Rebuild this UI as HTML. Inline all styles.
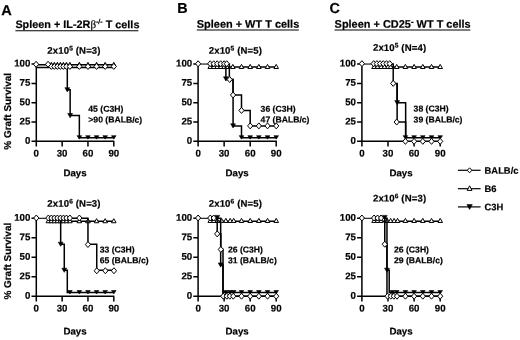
<!DOCTYPE html>
<html><head><meta charset="utf-8"><title>Graft survival</title>
<style>
html,body{margin:0;padding:0;background:#fff;}
body{width:520px;height:340px;overflow:hidden;}
svg{display:block;font-family:"Liberation Sans", sans-serif;font-weight:bold;fill:#000;}
text{stroke:#000;stroke-width:0.2px;}
</style></head><body>
<svg width="520" height="340" viewBox="0 0 520 340">
<defs><filter id="soft" x="0" y="0" width="520" height="340" filterUnits="userSpaceOnUse"><feGaussianBlur stdDeviation="0.35"/></filter></defs>
<rect width="520" height="340" fill="#fff"/>
<g filter="url(#soft)">
<rect width="520" height="340" fill="#fff"/>
<text x="1.30" y="15.20" transform="rotate(0.05 1.30 15.20)" font-size="14.6" text-anchor="start" >A</text>
<text x="177.20" y="12.90" transform="rotate(0.05 177.20 12.90)" font-size="14.4" text-anchor="start" >B</text>
<text x="329.50" y="13.10" transform="rotate(0.05 329.50 13.10)" font-size="14.4" text-anchor="start" >C</text>
<text x="15.4" y="28.1" transform="rotate(0.05 77 28.1)" font-size="10.85">Spleen + IL-2R<tspan font-weight="normal" font-size="11" font-family='"Liberation Serif", serif'>β</tspan><tspan font-size="7" font-weight="normal" stroke-width="0.35" dy="-4.2">-/-</tspan><tspan dy="4.2" font-size="10.85"> T cells</tspan></text>
<path d="M15.4 30.7H138.4" fill="none" stroke="#000" stroke-width="1.1"/>
<text x="196.8" y="27.8" transform="rotate(0.05 248 27.8)" font-size="10.95">Spleen + WT T cells</text>
<path d="M196.8 30.0H298.8" fill="none" stroke="#000" stroke-width="1.1"/>
<text x="334.6" y="27.8" transform="rotate(0.05 402 27.8)" font-size="10.95">Spleen + CD25<tspan font-size="8" dy="-3.2">-</tspan><tspan dy="3.2" font-size="10.95"> WT T cells</tspan></text>
<path d="M334.6 30.0H470.3" fill="none" stroke="#000" stroke-width="1.1"/>
<path d="M36.30 63.45V146.55M31.50 141.35H114.39M31.50 122.02H36.30M31.50 102.70H36.30M31.50 83.38H36.30M31.50 64.05H36.30M62.13 141.35V146.55M87.96 141.35V146.55M113.79 141.35V146.55" fill="none" stroke="#000" stroke-width="1.5"/>
<text x="30.40" y="143.85" transform="rotate(0.05 30.40 143.85)" font-size="9.7" text-anchor="end" >0</text>
<text x="30.40" y="124.52" transform="rotate(0.05 30.40 124.52)" font-size="9.7" text-anchor="end" >25</text>
<text x="30.40" y="105.20" transform="rotate(0.05 30.40 105.20)" font-size="9.7" text-anchor="end" >50</text>
<text x="30.40" y="85.88" transform="rotate(0.05 30.40 85.88)" font-size="9.7" text-anchor="end" >75</text>
<text x="30.40" y="66.55" transform="rotate(0.05 30.40 66.55)" font-size="9.7" text-anchor="end" >100</text>
<text x="36.30" y="156.55" transform="rotate(0.05 36.30 156.55)" font-size="9.7" text-anchor="middle" >0</text>
<text x="62.13" y="156.55" transform="rotate(0.05 62.13 156.55)" font-size="9.7" text-anchor="middle" >30</text>
<text x="87.96" y="156.55" transform="rotate(0.05 87.96 156.55)" font-size="9.7" text-anchor="middle" >60</text>
<text x="113.79" y="156.55" transform="rotate(0.05 113.79 156.55)" font-size="9.7" text-anchor="middle" >90</text>
<text x="75.04" y="176.35" transform="rotate(0.05 75.04 176.35)" font-size="9.7" text-anchor="middle" >Days</text>
<text x="74" y="53.8" transform="rotate(0.05 74 53.8)" font-size="9.6" letter-spacing="0.12" text-anchor="middle">2x10<tspan font-size="6.6" dy="-3.3">5</tspan><tspan dy="3.3" font-size="9.6"> (N=3)</tspan></text>
<text transform="translate(11.0,111.3) rotate(-89.95)" font-size="9.95" text-anchor="middle">% Graft Survival</text>
<path d="M36.30 64.75H113.79M36.30 67.55H113.79" fill="none" stroke="#000" stroke-width="1.55"/>
<path d="M49.07 66.40L51.37 62.30L53.67 66.40Z" fill="#fff" stroke="#000" stroke-width="1"/>
<path d="M52.08 66.40L54.38 62.30L56.68 66.40Z" fill="#fff" stroke="#000" stroke-width="1"/>
<path d="M55.09 66.40L57.39 62.30L59.69 66.40Z" fill="#fff" stroke="#000" stroke-width="1"/>
<path d="M58.11 66.40L60.41 62.30L62.71 66.40Z" fill="#fff" stroke="#000" stroke-width="1"/>
<path d="M61.12 66.40L63.42 62.30L65.72 66.40Z" fill="#fff" stroke="#000" stroke-width="1"/>
<path d="M64.14 66.40L66.44 62.30L68.73 66.40Z" fill="#fff" stroke="#000" stroke-width="1"/>
<path d="M67.58 66.40L69.88 62.30L72.18 66.40Z" fill="#fff" stroke="#000" stroke-width="1"/>
<path d="M77.05 66.40L79.35 62.30L81.65 66.40Z" fill="#fff" stroke="#000" stroke-width="1"/>
<path d="M85.66 66.40L87.96 62.30L90.26 66.40Z" fill="#fff" stroke="#000" stroke-width="1"/>
<path d="M94.27 66.40L96.57 62.30L98.87 66.40Z" fill="#fff" stroke="#000" stroke-width="1"/>
<path d="M102.88 66.40L105.18 62.30L107.48 66.40Z" fill="#fff" stroke="#000" stroke-width="1"/>
<path d="M111.49 66.40L113.79 62.30L116.09 66.40Z" fill="#fff" stroke="#000" stroke-width="1"/>
<path d="M67.30 64.05H67.30V89.79H70.14V115.61H79.35V137.75H113.79V137.75" fill="none" stroke="#000" stroke-width="1.5"/>
<path d="M64.90 87.69L67.30 91.89L69.70 87.69Z" fill="#000" stroke="#000" stroke-width="0.6"/>
<path d="M67.74 113.51L70.14 117.71L72.54 113.51Z" fill="#000" stroke="#000" stroke-width="0.6"/>
<path d="M77.05 135.65L79.35 139.15L81.65 135.65Z" fill="#000" stroke="#000" stroke-width="0.6"/>
<path d="M85.66 135.65L87.96 139.15L90.26 135.65Z" fill="#000" stroke="#000" stroke-width="0.6"/>
<path d="M94.27 135.65L96.57 139.15L98.87 135.65Z" fill="#000" stroke="#000" stroke-width="0.6"/>
<path d="M102.88 135.65L105.18 139.15L107.48 135.65Z" fill="#000" stroke="#000" stroke-width="0.6"/>
<path d="M111.49 135.65L113.79 139.15L116.09 135.65Z" fill="#000" stroke="#000" stroke-width="0.6"/>
<path d="M33.50 64.30L36.10 61.30L38.70 64.30L36.10 67.30Z" fill="#fff" stroke="#000" stroke-width="1"/>
<path d="M45.45 64.30L48.05 61.30L50.65 64.30L48.05 67.30Z" fill="#fff" stroke="#000" stroke-width="1"/>
<path d="M48.77 66.45L51.37 63.45L53.97 66.45L51.37 69.45Z" fill="#fff" stroke="#000" stroke-width="1"/>
<path d="M51.78 66.45L54.38 63.45L56.98 66.45L54.38 69.45Z" fill="#fff" stroke="#000" stroke-width="1"/>
<path d="M54.79 66.45L57.39 63.45L59.99 66.45L57.39 69.45Z" fill="#fff" stroke="#000" stroke-width="1"/>
<path d="M57.81 66.45L60.41 63.45L63.01 66.45L60.41 69.45Z" fill="#fff" stroke="#000" stroke-width="1"/>
<path d="M60.82 66.45L63.42 63.45L66.02 66.45L63.42 69.45Z" fill="#fff" stroke="#000" stroke-width="1"/>
<path d="M63.84 66.45L66.44 63.45L69.03 66.45L66.44 69.45Z" fill="#fff" stroke="#000" stroke-width="1"/>
<path d="M67.28 66.45L69.88 63.45L72.48 66.45L69.88 69.45Z" fill="#fff" stroke="#000" stroke-width="1"/>
<path d="M76.75 66.45L79.35 63.45L81.95 66.45L79.35 69.45Z" fill="#fff" stroke="#000" stroke-width="1"/>
<path d="M85.36 66.45L87.96 63.45L90.56 66.45L87.96 69.45Z" fill="#fff" stroke="#000" stroke-width="1"/>
<path d="M93.97 66.45L96.57 63.45L99.17 66.45L96.57 69.45Z" fill="#fff" stroke="#000" stroke-width="1"/>
<path d="M102.58 66.45L105.18 63.45L107.78 66.45L105.18 69.45Z" fill="#fff" stroke="#000" stroke-width="1"/>
<path d="M111.19 66.45L113.79 63.45L116.39 66.45L113.79 69.45Z" fill="#fff" stroke="#000" stroke-width="1"/>
<text x="88.30" y="111.80" transform="rotate(0.05 88.30 111.80)" font-size="8.65" text-anchor="start" >45 (C3H)</text>
<text x="88.30" y="122.60" transform="rotate(0.05 88.30 122.60)" font-size="8.65" text-anchor="start" >&gt;90 (BALB/c)</text>
<path d="M198.10 63.45V146.55M193.30 141.35H276.82M193.30 122.02H198.10M193.30 102.70H198.10M193.30 83.38H198.10M193.30 64.05H198.10M224.14 141.35V146.55M250.18 141.35V146.55M276.22 141.35V146.55" fill="none" stroke="#000" stroke-width="1.5"/>
<text x="192.20" y="143.85" transform="rotate(0.05 192.20 143.85)" font-size="9.7" text-anchor="end" >0</text>
<text x="192.20" y="124.52" transform="rotate(0.05 192.20 124.52)" font-size="9.7" text-anchor="end" >25</text>
<text x="192.20" y="105.20" transform="rotate(0.05 192.20 105.20)" font-size="9.7" text-anchor="end" >50</text>
<text x="192.20" y="85.88" transform="rotate(0.05 192.20 85.88)" font-size="9.7" text-anchor="end" >75</text>
<text x="192.20" y="66.55" transform="rotate(0.05 192.20 66.55)" font-size="9.7" text-anchor="end" >100</text>
<text x="198.10" y="156.55" transform="rotate(0.05 198.10 156.55)" font-size="9.7" text-anchor="middle" >0</text>
<text x="224.14" y="156.55" transform="rotate(0.05 224.14 156.55)" font-size="9.7" text-anchor="middle" >30</text>
<text x="250.18" y="156.55" transform="rotate(0.05 250.18 156.55)" font-size="9.7" text-anchor="middle" >60</text>
<text x="276.22" y="156.55" transform="rotate(0.05 276.22 156.55)" font-size="9.7" text-anchor="middle" >90</text>
<text x="237.16" y="176.35" transform="rotate(0.05 237.16 176.35)" font-size="9.7" text-anchor="middle" >Days</text>
<text x="235.4" y="53.8" transform="rotate(0.05 235.4 53.8)" font-size="9.6" letter-spacing="0.12" text-anchor="middle">2x10<tspan font-size="6.6" dy="-3.3">5</tspan><tspan dy="3.3" font-size="9.6"> (N=5)</tspan></text>
<path d="M210.25 67.05H276.22" fill="none" stroke="#000" stroke-width="1.5"/>
<path d="M207.95 68.50L210.25 64.40L212.55 68.50Z" fill="#fff" stroke="#000" stroke-width="1"/>
<path d="M211.42 68.50L213.72 64.40L216.02 68.50Z" fill="#fff" stroke="#000" stroke-width="1"/>
<path d="M214.90 68.50L217.20 64.40L219.50 68.50Z" fill="#fff" stroke="#000" stroke-width="1"/>
<path d="M218.37 68.50L220.67 64.40L222.97 68.50Z" fill="#fff" stroke="#000" stroke-width="1"/>
<path d="M221.84 68.50L224.14 64.40L226.44 68.50Z" fill="#fff" stroke="#000" stroke-width="1"/>
<path d="M224.44 68.50L226.74 64.40L229.04 68.50Z" fill="#fff" stroke="#000" stroke-width="1"/>
<path d="M230.52 68.50L232.82 64.40L235.12 68.50Z" fill="#fff" stroke="#000" stroke-width="1"/>
<path d="M239.20 68.50L241.50 64.40L243.80 68.50Z" fill="#fff" stroke="#000" stroke-width="1"/>
<path d="M247.88 68.50L250.18 64.40L252.48 68.50Z" fill="#fff" stroke="#000" stroke-width="1"/>
<path d="M256.56 68.50L258.86 64.40L261.16 68.50Z" fill="#fff" stroke="#000" stroke-width="1"/>
<path d="M265.24 68.50L267.54 64.40L269.84 68.50Z" fill="#fff" stroke="#000" stroke-width="1"/>
<path d="M273.92 68.50L276.22 64.40L278.52 68.50Z" fill="#fff" stroke="#000" stroke-width="1"/>
<path d="M225.88 64.05H225.88V79.51H233.08V125.89H241.50V137.75H276.22V137.75" fill="none" stroke="#000" stroke-width="1.5"/>
<path d="M223.48 76.81L225.88 81.01L228.28 76.81Z" fill="#000" stroke="#000" stroke-width="0.6"/>
<path d="M230.68 123.79L233.08 127.99L235.48 123.79Z" fill="#000" stroke="#000" stroke-width="0.6"/>
<path d="M239.20 135.65L241.50 139.15L243.80 135.65Z" fill="#000" stroke="#000" stroke-width="0.6"/>
<path d="M247.88 135.65L250.18 139.15L252.48 135.65Z" fill="#000" stroke="#000" stroke-width="0.6"/>
<path d="M256.56 135.65L258.86 139.15L261.16 135.65Z" fill="#000" stroke="#000" stroke-width="0.6"/>
<path d="M265.24 135.65L267.54 139.15L269.84 135.65Z" fill="#000" stroke="#000" stroke-width="0.6"/>
<path d="M273.92 135.65L276.22 139.15L278.52 135.65Z" fill="#000" stroke="#000" stroke-width="0.6"/>
<path d="M198.10 64.05H209.82" fill="none" stroke="#000" stroke-width="1.05"/>
<path d="M209.38 64.05H229.35V79.51H233.08V94.97H241.50V110.43H250.18V125.89H276.22V125.89" fill="none" stroke="#000" stroke-width="1.5"/>
<path d="M195.50 63.75L198.10 60.75L200.70 63.75L198.10 66.75Z" fill="#fff" stroke="#000" stroke-width="1"/>
<path d="M207.65 63.75L210.25 60.75L212.85 63.75L210.25 66.75Z" fill="#fff" stroke="#000" stroke-width="1"/>
<path d="M211.12 63.75L213.72 60.75L216.32 63.75L213.72 66.75Z" fill="#fff" stroke="#000" stroke-width="1"/>
<path d="M214.60 63.75L217.20 60.75L219.80 63.75L217.20 66.75Z" fill="#fff" stroke="#000" stroke-width="1"/>
<path d="M218.07 63.75L220.67 60.75L223.27 63.75L220.67 66.75Z" fill="#fff" stroke="#000" stroke-width="1"/>
<path d="M221.54 63.75L224.14 60.75L226.74 63.75L224.14 66.75Z" fill="#fff" stroke="#000" stroke-width="1"/>
<path d="M224.14 63.75L226.74 60.75L229.34 63.75L226.74 66.75Z" fill="#fff" stroke="#000" stroke-width="1"/>
<path d="M227.05 79.51L229.65 76.51L232.25 79.51L229.65 82.51Z" fill="#fff" stroke="#000" stroke-width="1"/>
<path d="M230.48 94.97L233.08 91.97L235.68 94.97L233.08 97.97Z" fill="#fff" stroke="#000" stroke-width="1"/>
<path d="M238.90 110.43L241.50 107.43L244.10 110.43L241.50 113.43Z" fill="#fff" stroke="#000" stroke-width="1"/>
<path d="M247.58 125.89L250.18 122.89L252.78 125.89L250.18 128.89Z" fill="#fff" stroke="#000" stroke-width="1"/>
<path d="M256.26 125.89L258.86 122.89L261.46 125.89L258.86 128.89Z" fill="#fff" stroke="#000" stroke-width="1"/>
<path d="M264.94 125.89L267.54 122.89L270.14 125.89L267.54 128.89Z" fill="#fff" stroke="#000" stroke-width="1"/>
<path d="M273.62 125.89L276.22 122.89L278.82 125.89L276.22 128.89Z" fill="#fff" stroke="#000" stroke-width="1"/>
<text x="260.60" y="111.70" transform="rotate(0.05 260.60 111.70)" font-size="8.65" text-anchor="start" >36 (C3H)</text>
<text x="260.60" y="122.50" transform="rotate(0.05 260.60 122.50)" font-size="8.65" text-anchor="start" >47 (BALB/c)</text>
<path d="M361.90 63.45V146.55M357.10 141.35H440.80M357.10 122.02H361.90M357.10 102.70H361.90M357.10 83.38H361.90M357.10 64.05H361.90M388.00 141.35V146.55M414.10 141.35V146.55M440.20 141.35V146.55" fill="none" stroke="#000" stroke-width="1.5"/>
<text x="356.00" y="143.85" transform="rotate(0.05 356.00 143.85)" font-size="9.7" text-anchor="end" >0</text>
<text x="356.00" y="124.52" transform="rotate(0.05 356.00 124.52)" font-size="9.7" text-anchor="end" >25</text>
<text x="356.00" y="105.20" transform="rotate(0.05 356.00 105.20)" font-size="9.7" text-anchor="end" >50</text>
<text x="356.00" y="85.88" transform="rotate(0.05 356.00 85.88)" font-size="9.7" text-anchor="end" >75</text>
<text x="356.00" y="66.55" transform="rotate(0.05 356.00 66.55)" font-size="9.7" text-anchor="end" >100</text>
<text x="361.90" y="156.55" transform="rotate(0.05 361.90 156.55)" font-size="9.7" text-anchor="middle" >0</text>
<text x="388.00" y="156.55" transform="rotate(0.05 388.00 156.55)" font-size="9.7" text-anchor="middle" >30</text>
<text x="414.10" y="156.55" transform="rotate(0.05 414.10 156.55)" font-size="9.7" text-anchor="middle" >60</text>
<text x="440.20" y="156.55" transform="rotate(0.05 440.20 156.55)" font-size="9.7" text-anchor="middle" >90</text>
<text x="401.05" y="176.35" transform="rotate(0.05 401.05 176.35)" font-size="9.7" text-anchor="middle" >Days</text>
<text x="399.6" y="50.9" transform="rotate(0.05 399.6 50.9)" font-size="9.6" letter-spacing="0.12" text-anchor="middle">2x10<tspan font-size="6.6" dy="-3.3">5</tspan><tspan dy="3.3" font-size="9.6"> (N=4)</tspan></text>
<path d="M374.08 67.05H440.20" fill="none" stroke="#000" stroke-width="1.5"/>
<path d="M371.78 68.50L374.08 64.40L376.38 68.50Z" fill="#fff" stroke="#000" stroke-width="1"/>
<path d="M375.26 68.50L377.56 64.40L379.86 68.50Z" fill="#fff" stroke="#000" stroke-width="1"/>
<path d="M378.74 68.50L381.04 64.40L383.34 68.50Z" fill="#fff" stroke="#000" stroke-width="1"/>
<path d="M382.22 68.50L384.52 64.40L386.82 68.50Z" fill="#fff" stroke="#000" stroke-width="1"/>
<path d="M385.70 68.50L388.00 64.40L390.30 68.50Z" fill="#fff" stroke="#000" stroke-width="1"/>
<path d="M388.31 68.50L390.61 64.40L392.91 68.50Z" fill="#fff" stroke="#000" stroke-width="1"/>
<path d="M394.40 68.50L396.70 64.40L399.00 68.50Z" fill="#fff" stroke="#000" stroke-width="1"/>
<path d="M403.10 68.50L405.40 64.40L407.70 68.50Z" fill="#fff" stroke="#000" stroke-width="1"/>
<path d="M411.80 68.50L414.10 64.40L416.40 68.50Z" fill="#fff" stroke="#000" stroke-width="1"/>
<path d="M420.50 68.50L422.80 64.40L425.10 68.50Z" fill="#fff" stroke="#000" stroke-width="1"/>
<path d="M429.20 68.50L431.50 64.40L433.80 68.50Z" fill="#fff" stroke="#000" stroke-width="1"/>
<path d="M437.90 68.50L440.20 64.40L442.50 68.50Z" fill="#fff" stroke="#000" stroke-width="1"/>
<path d="M397.13 83.38H397.13V102.70H405.66V137.75H440.20V137.75" fill="none" stroke="#000" stroke-width="1.5"/>
<path d="M394.74 100.60L397.13 104.80L399.53 100.60Z" fill="#000" stroke="#000" stroke-width="0.6"/>
<path d="M403.10 135.65L405.40 139.15L407.70 135.65Z" fill="#000" stroke="#000" stroke-width="0.6"/>
<path d="M411.80 135.65L414.10 139.15L416.40 135.65Z" fill="#000" stroke="#000" stroke-width="0.6"/>
<path d="M420.50 135.65L422.80 139.15L425.10 135.65Z" fill="#000" stroke="#000" stroke-width="0.6"/>
<path d="M429.20 135.65L431.50 139.15L433.80 135.65Z" fill="#000" stroke="#000" stroke-width="0.6"/>
<path d="M437.90 135.65L440.20 139.15L442.50 135.65Z" fill="#000" stroke="#000" stroke-width="0.6"/>
<path d="M361.90 64.05H373.64" fill="none" stroke="#000" stroke-width="1.05"/>
<path d="M373.21 64.05H393.22V83.38H397.13V122.02H405.66V141.35" fill="none" stroke="#000" stroke-width="1.5"/>
<path d="M359.30 63.65L361.90 60.65L364.50 63.65L361.90 66.65Z" fill="#fff" stroke="#000" stroke-width="1"/>
<path d="M371.04 63.65L373.64 60.65L376.25 63.65L373.64 66.65Z" fill="#fff" stroke="#000" stroke-width="1"/>
<path d="M374.26 63.65L376.86 60.65L379.46 63.65L376.86 66.65Z" fill="#fff" stroke="#000" stroke-width="1"/>
<path d="M377.48 63.65L380.08 60.65L382.68 63.65L380.08 66.65Z" fill="#fff" stroke="#000" stroke-width="1"/>
<path d="M380.70 63.65L383.30 60.65L385.90 63.65L383.30 66.65Z" fill="#fff" stroke="#000" stroke-width="1"/>
<path d="M383.92 63.65L386.52 60.65L389.12 63.65L386.52 66.65Z" fill="#fff" stroke="#000" stroke-width="1"/>
<path d="M387.14 63.65L389.74 60.65L392.34 63.65L389.74 66.65Z" fill="#fff" stroke="#000" stroke-width="1"/>
<path d="M390.62 83.38L393.22 80.38L395.82 83.38L393.22 86.38Z" fill="#fff" stroke="#000" stroke-width="1"/>
<path d="M394.10 122.02L396.70 119.02L399.30 122.02L396.70 125.02Z" fill="#fff" stroke="#000" stroke-width="1"/>
<path d="M402.80 141.35L405.40 138.35L408.00 141.35L405.40 144.35Z" fill="#fff" stroke="#000" stroke-width="1"/>
<path d="M411.50 141.35L414.10 138.35L416.70 141.35L414.10 144.35Z" fill="#fff" stroke="#000" stroke-width="1"/>
<path d="M420.20 141.35L422.80 138.35L425.40 141.35L422.80 144.35Z" fill="#fff" stroke="#000" stroke-width="1"/>
<path d="M428.90 141.35L431.50 138.35L434.10 141.35L431.50 144.35Z" fill="#fff" stroke="#000" stroke-width="1"/>
<path d="M437.60 141.35L440.20 138.35L442.80 141.35L440.20 144.35Z" fill="#fff" stroke="#000" stroke-width="1"/>
<text x="413.60" y="111.60" transform="rotate(0.05 413.60 111.60)" font-size="8.65" text-anchor="start" >38 (C3H)</text>
<text x="413.60" y="122.40" transform="rotate(0.05 413.60 122.40)" font-size="8.65" text-anchor="start" >39 (BALB/c)</text>
<path d="M36.30 217.70V301.40M31.50 296.20H114.39M31.50 276.73H36.30M31.50 257.25H36.30M31.50 237.78H36.30M31.50 218.30H36.30M62.13 296.20V301.40M87.96 296.20V301.40M113.79 296.20V301.40" fill="none" stroke="#000" stroke-width="1.5"/>
<text x="30.40" y="298.70" transform="rotate(0.05 30.40 298.70)" font-size="9.7" text-anchor="end" >0</text>
<text x="30.40" y="279.23" transform="rotate(0.05 30.40 279.23)" font-size="9.7" text-anchor="end" >25</text>
<text x="30.40" y="259.75" transform="rotate(0.05 30.40 259.75)" font-size="9.7" text-anchor="end" >50</text>
<text x="30.40" y="240.28" transform="rotate(0.05 30.40 240.28)" font-size="9.7" text-anchor="end" >75</text>
<text x="30.40" y="220.80" transform="rotate(0.05 30.40 220.80)" font-size="9.7" text-anchor="end" >100</text>
<text x="36.30" y="311.40" transform="rotate(0.05 36.30 311.40)" font-size="9.7" text-anchor="middle" >0</text>
<text x="62.13" y="311.40" transform="rotate(0.05 62.13 311.40)" font-size="9.7" text-anchor="middle" >30</text>
<text x="87.96" y="311.40" transform="rotate(0.05 87.96 311.40)" font-size="9.7" text-anchor="middle" >60</text>
<text x="113.79" y="311.40" transform="rotate(0.05 113.79 311.40)" font-size="9.7" text-anchor="middle" >90</text>
<text x="75.04" y="334.50" transform="rotate(0.05 75.04 334.50)" font-size="9.7" text-anchor="middle" >Days</text>
<text x="74" y="206.7" transform="rotate(0.05 74 206.7)" font-size="9.6" letter-spacing="0.12" text-anchor="middle">2x10<tspan font-size="6.6" dy="-3.3">6</tspan><tspan dy="3.3" font-size="9.6"> (N=3)</tspan></text>
<text transform="translate(11.0,261.2) rotate(-89.95)" font-size="9.95" text-anchor="middle">% Graft Survival</text>
<path d="M48.35 221.30H113.79" fill="none" stroke="#000" stroke-width="1.5"/>
<path d="M46.05 222.75L48.35 218.65L50.65 222.75Z" fill="#fff" stroke="#000" stroke-width="1"/>
<path d="M49.07 222.75L51.37 218.65L53.67 222.75Z" fill="#fff" stroke="#000" stroke-width="1"/>
<path d="M52.08 222.75L54.38 218.65L56.68 222.75Z" fill="#fff" stroke="#000" stroke-width="1"/>
<path d="M55.09 222.75L57.39 218.65L59.69 222.75Z" fill="#fff" stroke="#000" stroke-width="1"/>
<path d="M58.11 222.75L60.41 218.65L62.71 222.75Z" fill="#fff" stroke="#000" stroke-width="1"/>
<path d="M61.12 222.75L63.42 218.65L65.72 222.75Z" fill="#fff" stroke="#000" stroke-width="1"/>
<path d="M64.14 222.75L66.44 218.65L68.73 222.75Z" fill="#fff" stroke="#000" stroke-width="1"/>
<path d="M67.58 222.75L69.88 218.65L72.18 222.75Z" fill="#fff" stroke="#000" stroke-width="1"/>
<path d="M77.05 222.75L79.35 218.65L81.65 222.75Z" fill="#fff" stroke="#000" stroke-width="1"/>
<path d="M85.66 222.75L87.96 218.65L90.26 222.75Z" fill="#fff" stroke="#000" stroke-width="1"/>
<path d="M94.27 222.75L96.57 218.65L98.87 222.75Z" fill="#fff" stroke="#000" stroke-width="1"/>
<path d="M102.88 222.75L105.18 218.65L107.48 222.75Z" fill="#fff" stroke="#000" stroke-width="1"/>
<path d="M111.49 222.75L113.79 218.65L116.09 222.75Z" fill="#fff" stroke="#000" stroke-width="1"/>
<path d="M60.67 218.30H60.67V244.24H64.28V270.26H67.30V292.60H113.79V292.60" fill="none" stroke="#000" stroke-width="1.5"/>
<path d="M58.27 242.14L60.67 246.34L63.07 242.14Z" fill="#000" stroke="#000" stroke-width="0.6"/>
<path d="M61.88 268.16L64.28 272.36L66.68 268.16Z" fill="#000" stroke="#000" stroke-width="0.6"/>
<path d="M67.58 290.50L69.88 294.00L72.18 290.50Z" fill="#000" stroke="#000" stroke-width="0.6"/>
<path d="M77.05 290.50L79.35 294.00L81.65 290.50Z" fill="#000" stroke="#000" stroke-width="0.6"/>
<path d="M85.66 290.50L87.96 294.00L90.26 290.50Z" fill="#000" stroke="#000" stroke-width="0.6"/>
<path d="M94.27 290.50L96.57 294.00L98.87 290.50Z" fill="#000" stroke="#000" stroke-width="0.6"/>
<path d="M102.88 290.50L105.18 294.00L107.48 290.50Z" fill="#000" stroke="#000" stroke-width="0.6"/>
<path d="M111.49 290.50L113.79 294.00L116.09 290.50Z" fill="#000" stroke="#000" stroke-width="0.6"/>
<path d="M36.30 218.30H47.92" fill="none" stroke="#000" stroke-width="1.05"/>
<path d="M47.49 218.30H87.96V244.24H96.74V270.26H113.79V270.26" fill="none" stroke="#000" stroke-width="1.5"/>
<path d="M33.70 218.00L36.30 215.00L38.90 218.00L36.30 221.00Z" fill="#fff" stroke="#000" stroke-width="1"/>
<path d="M45.75 218.00L48.35 215.00L50.95 218.00L48.35 221.00Z" fill="#fff" stroke="#000" stroke-width="1"/>
<path d="M48.77 218.00L51.37 215.00L53.97 218.00L51.37 221.00Z" fill="#fff" stroke="#000" stroke-width="1"/>
<path d="M51.78 218.00L54.38 215.00L56.98 218.00L54.38 221.00Z" fill="#fff" stroke="#000" stroke-width="1"/>
<path d="M54.79 218.00L57.39 215.00L59.99 218.00L57.39 221.00Z" fill="#fff" stroke="#000" stroke-width="1"/>
<path d="M57.81 218.00L60.41 215.00L63.01 218.00L60.41 221.00Z" fill="#fff" stroke="#000" stroke-width="1"/>
<path d="M60.82 218.00L63.42 215.00L66.02 218.00L63.42 221.00Z" fill="#fff" stroke="#000" stroke-width="1"/>
<path d="M63.84 218.00L66.44 215.00L69.03 218.00L66.44 221.00Z" fill="#fff" stroke="#000" stroke-width="1"/>
<path d="M67.28 218.00L69.88 215.00L72.48 218.00L69.88 221.00Z" fill="#fff" stroke="#000" stroke-width="1"/>
<path d="M76.75 218.00L79.35 215.00L81.95 218.00L79.35 221.00Z" fill="#fff" stroke="#000" stroke-width="1"/>
<path d="M85.36 244.54L87.96 241.54L90.56 244.54L87.96 247.54Z" fill="#fff" stroke="#000" stroke-width="1"/>
<path d="M94.14 270.76L96.74 267.76L99.34 270.76L96.74 273.76Z" fill="#fff" stroke="#000" stroke-width="1"/>
<path d="M102.75 270.76L105.35 267.76L107.95 270.76L105.35 273.76Z" fill="#fff" stroke="#000" stroke-width="1"/>
<path d="M111.36 270.76L113.96 267.76L116.56 270.76L113.96 273.76Z" fill="#fff" stroke="#000" stroke-width="1"/>
<text x="99.70" y="252.40" transform="rotate(0.05 99.70 252.40)" font-size="8.65" text-anchor="start" >33 (C3H)</text>
<text x="99.70" y="263.20" transform="rotate(0.05 99.70 263.20)" font-size="8.65" text-anchor="start" >65 (BALB/c)</text>
<path d="M198.10 217.70V301.40M193.30 296.20H276.82M193.30 276.73H198.10M193.30 257.25H198.10M193.30 237.78H198.10M193.30 218.30H198.10M224.14 296.20V301.40M250.18 296.20V301.40M276.22 296.20V301.40" fill="none" stroke="#000" stroke-width="1.5"/>
<text x="192.20" y="298.70" transform="rotate(0.05 192.20 298.70)" font-size="9.7" text-anchor="end" >0</text>
<text x="192.20" y="279.23" transform="rotate(0.05 192.20 279.23)" font-size="9.7" text-anchor="end" >25</text>
<text x="192.20" y="259.75" transform="rotate(0.05 192.20 259.75)" font-size="9.7" text-anchor="end" >50</text>
<text x="192.20" y="240.28" transform="rotate(0.05 192.20 240.28)" font-size="9.7" text-anchor="end" >75</text>
<text x="192.20" y="220.80" transform="rotate(0.05 192.20 220.80)" font-size="9.7" text-anchor="end" >100</text>
<text x="198.10" y="311.40" transform="rotate(0.05 198.10 311.40)" font-size="9.7" text-anchor="middle" >0</text>
<text x="224.14" y="311.40" transform="rotate(0.05 224.14 311.40)" font-size="9.7" text-anchor="middle" >30</text>
<text x="250.18" y="311.40" transform="rotate(0.05 250.18 311.40)" font-size="9.7" text-anchor="middle" >60</text>
<text x="276.22" y="311.40" transform="rotate(0.05 276.22 311.40)" font-size="9.7" text-anchor="middle" >90</text>
<text x="237.16" y="334.50" transform="rotate(0.05 237.16 334.50)" font-size="9.7" text-anchor="middle" >Days</text>
<text x="235.4" y="206.7" transform="rotate(0.05 235.4 206.7)" font-size="9.6" letter-spacing="0.12" text-anchor="middle">2x10<tspan font-size="6.6" dy="-3.3">6</tspan><tspan dy="3.3" font-size="9.6"> (N=5)</tspan></text>
<path d="M212.42 221.30H276.22" fill="none" stroke="#000" stroke-width="1.5"/>
<path d="M207.95 222.45L210.25 218.35L212.55 222.45Z" fill="#fff" stroke="#000" stroke-width="1"/>
<path d="M211.42 222.45L213.72 218.35L216.02 222.45Z" fill="#fff" stroke="#000" stroke-width="1"/>
<path d="M214.90 222.45L217.20 218.35L219.50 222.45Z" fill="#fff" stroke="#000" stroke-width="1"/>
<path d="M219.24 222.45L221.54 218.35L223.84 222.45Z" fill="#fff" stroke="#000" stroke-width="1"/>
<path d="M223.58 222.45L225.88 218.35L228.18 222.45Z" fill="#fff" stroke="#000" stroke-width="1"/>
<path d="M227.92 222.45L230.22 218.35L232.52 222.45Z" fill="#fff" stroke="#000" stroke-width="1"/>
<path d="M231.39 222.45L233.69 218.35L235.99 222.45Z" fill="#fff" stroke="#000" stroke-width="1"/>
<path d="M239.20 222.45L241.50 218.35L243.80 222.45Z" fill="#fff" stroke="#000" stroke-width="1"/>
<path d="M247.88 222.45L250.18 218.35L252.48 222.45Z" fill="#fff" stroke="#000" stroke-width="1"/>
<path d="M256.56 222.45L258.86 218.35L261.16 222.45Z" fill="#fff" stroke="#000" stroke-width="1"/>
<path d="M265.24 222.45L267.54 218.35L269.84 222.45Z" fill="#fff" stroke="#000" stroke-width="1"/>
<path d="M273.92 222.45L276.22 218.35L278.52 222.45Z" fill="#fff" stroke="#000" stroke-width="1"/>
<path d="M217.20 218.30H217.20V218.30H220.67V265.04H223.01V292.60H276.22V292.60" fill="none" stroke="#000" stroke-width="1.5"/>
<path d="M214.80 215.40L217.20 219.60L219.60 215.40Z" fill="#000" stroke="#000" stroke-width="0.6"/>
<path d="M218.27 262.94L220.67 267.14L223.07 262.94Z" fill="#000" stroke="#000" stroke-width="0.6"/>
<path d="M223.58 290.50L225.88 294.00L228.18 290.50Z" fill="#000" stroke="#000" stroke-width="0.6"/>
<path d="M227.92 290.50L230.22 294.00L232.52 290.50Z" fill="#000" stroke="#000" stroke-width="0.6"/>
<path d="M231.39 290.50L233.69 294.00L235.99 290.50Z" fill="#000" stroke="#000" stroke-width="0.6"/>
<path d="M239.20 290.50L241.50 294.00L243.80 290.50Z" fill="#000" stroke="#000" stroke-width="0.6"/>
<path d="M247.88 290.50L250.18 294.00L252.48 290.50Z" fill="#000" stroke="#000" stroke-width="0.6"/>
<path d="M256.56 290.50L258.86 294.00L261.16 290.50Z" fill="#000" stroke="#000" stroke-width="0.6"/>
<path d="M265.24 290.50L267.54 294.00L269.84 290.50Z" fill="#000" stroke="#000" stroke-width="0.6"/>
<path d="M273.92 290.50L276.22 294.00L278.52 290.50Z" fill="#000" stroke="#000" stroke-width="0.6"/>
<path d="M198.10 218.30H209.82" fill="none" stroke="#000" stroke-width="1.05"/>
<path d="M209.38 218.30H217.20V233.88H220.84V249.46H223.01V296.20H276.22V296.20" fill="none" stroke="#000" stroke-width="1.5"/>
<path d="M195.50 218.00L198.10 215.00L200.70 218.00L198.10 221.00Z" fill="#fff" stroke="#000" stroke-width="1"/>
<path d="M207.65 218.00L210.25 215.00L212.85 218.00L210.25 221.00Z" fill="#fff" stroke="#000" stroke-width="1"/>
<path d="M211.12 218.00L213.72 215.00L216.32 218.00L213.72 221.00Z" fill="#fff" stroke="#000" stroke-width="1"/>
<path d="M214.60 233.88L217.20 230.88L219.80 233.88L217.20 236.88Z" fill="#fff" stroke="#000" stroke-width="1"/>
<path d="M218.24 249.46L220.84 246.46L223.44 249.46L220.84 252.46Z" fill="#fff" stroke="#000" stroke-width="1"/>
<path d="M220.67 296.20L223.27 293.20L225.87 296.20L223.27 299.20Z" fill="#fff" stroke="#000" stroke-width="1"/>
<path d="M224.14 296.20L226.74 293.20L229.34 296.20L226.74 299.20Z" fill="#fff" stroke="#000" stroke-width="1"/>
<path d="M227.18 296.20L229.78 293.20L232.38 296.20L229.78 299.20Z" fill="#fff" stroke="#000" stroke-width="1"/>
<path d="M230.65 296.20L233.25 293.20L235.85 296.20L233.25 299.20Z" fill="#fff" stroke="#000" stroke-width="1"/>
<path d="M238.90 296.20L241.50 293.20L244.10 296.20L241.50 299.20Z" fill="#fff" stroke="#000" stroke-width="1"/>
<path d="M247.58 296.20L250.18 293.20L252.78 296.20L250.18 299.20Z" fill="#fff" stroke="#000" stroke-width="1"/>
<path d="M256.26 296.20L258.86 293.20L261.46 296.20L258.86 299.20Z" fill="#fff" stroke="#000" stroke-width="1"/>
<path d="M264.94 296.20L267.54 293.20L270.14 296.20L267.54 299.20Z" fill="#fff" stroke="#000" stroke-width="1"/>
<path d="M273.62 296.20L276.22 293.20L278.82 296.20L276.22 299.20Z" fill="#fff" stroke="#000" stroke-width="1"/>
<text x="227.90" y="252.40" transform="rotate(0.05 227.90 252.40)" font-size="8.65" text-anchor="start" >26 (C3H)</text>
<text x="227.90" y="263.20" transform="rotate(0.05 227.90 263.20)" font-size="8.65" text-anchor="start" >31 (BALB/c)</text>
<path d="M361.90 217.70V301.40M357.10 296.20H440.80M357.10 276.73H361.90M357.10 257.25H361.90M357.10 237.78H361.90M357.10 218.30H361.90M388.00 296.20V301.40M414.10 296.20V301.40M440.20 296.20V301.40" fill="none" stroke="#000" stroke-width="1.5"/>
<text x="356.00" y="298.70" transform="rotate(0.05 356.00 298.70)" font-size="9.7" text-anchor="end" >0</text>
<text x="356.00" y="279.23" transform="rotate(0.05 356.00 279.23)" font-size="9.7" text-anchor="end" >25</text>
<text x="356.00" y="259.75" transform="rotate(0.05 356.00 259.75)" font-size="9.7" text-anchor="end" >50</text>
<text x="356.00" y="240.28" transform="rotate(0.05 356.00 240.28)" font-size="9.7" text-anchor="end" >75</text>
<text x="356.00" y="220.80" transform="rotate(0.05 356.00 220.80)" font-size="9.7" text-anchor="end" >100</text>
<text x="361.90" y="311.40" transform="rotate(0.05 361.90 311.40)" font-size="9.7" text-anchor="middle" >0</text>
<text x="388.00" y="311.40" transform="rotate(0.05 388.00 311.40)" font-size="9.7" text-anchor="middle" >30</text>
<text x="414.10" y="311.40" transform="rotate(0.05 414.10 311.40)" font-size="9.7" text-anchor="middle" >60</text>
<text x="440.20" y="311.40" transform="rotate(0.05 440.20 311.40)" font-size="9.7" text-anchor="middle" >90</text>
<text x="401.05" y="334.50" transform="rotate(0.05 401.05 334.50)" font-size="9.7" text-anchor="middle" >Days</text>
<text x="399.6" y="201.5" transform="rotate(0.05 399.6 201.5)" font-size="9.6" letter-spacing="0.12" text-anchor="middle">2x10<tspan font-size="6.6" dy="-3.3">6</tspan><tspan dy="3.3" font-size="9.6"> (N=3)</tspan></text>
<path d="M374.08 221.30H440.20" fill="none" stroke="#000" stroke-width="1.5"/>
<path d="M371.78 222.45L374.08 218.35L376.38 222.45Z" fill="#fff" stroke="#000" stroke-width="1"/>
<path d="M375.26 222.45L377.56 218.35L379.86 222.45Z" fill="#fff" stroke="#000" stroke-width="1"/>
<path d="M378.74 222.45L381.04 218.35L383.34 222.45Z" fill="#fff" stroke="#000" stroke-width="1"/>
<path d="M384.83 222.45L387.13 218.35L389.43 222.45Z" fill="#fff" stroke="#000" stroke-width="1"/>
<path d="M388.31 222.45L390.61 218.35L392.91 222.45Z" fill="#fff" stroke="#000" stroke-width="1"/>
<path d="M391.79 222.45L394.09 218.35L396.39 222.45Z" fill="#fff" stroke="#000" stroke-width="1"/>
<path d="M395.27 222.45L397.57 218.35L399.87 222.45Z" fill="#fff" stroke="#000" stroke-width="1"/>
<path d="M403.10 222.45L405.40 218.35L407.70 222.45Z" fill="#fff" stroke="#000" stroke-width="1"/>
<path d="M411.80 222.45L414.10 218.35L416.40 222.45Z" fill="#fff" stroke="#000" stroke-width="1"/>
<path d="M420.50 222.45L422.80 218.35L425.10 222.45Z" fill="#fff" stroke="#000" stroke-width="1"/>
<path d="M429.20 222.45L431.50 218.35L433.80 222.45Z" fill="#fff" stroke="#000" stroke-width="1"/>
<path d="M437.90 222.45L440.20 218.35L442.50 222.45Z" fill="#fff" stroke="#000" stroke-width="1"/>
<path d="M384.78 218.30H384.78V218.30H386.96V270.26H389.22V292.60H440.20V292.60" fill="none" stroke="#000" stroke-width="1.5"/>
<path d="M382.38 215.40L384.78 219.60L387.18 215.40Z" fill="#000" stroke="#000" stroke-width="0.6"/>
<path d="M384.56 268.16L386.96 272.36L389.36 268.16Z" fill="#000" stroke="#000" stroke-width="0.6"/>
<path d="M390.05 290.50L392.35 294.00L394.65 290.50Z" fill="#000" stroke="#000" stroke-width="0.6"/>
<path d="M394.40 290.50L396.70 294.00L399.00 290.50Z" fill="#000" stroke="#000" stroke-width="0.6"/>
<path d="M403.10 290.50L405.40 294.00L407.70 290.50Z" fill="#000" stroke="#000" stroke-width="0.6"/>
<path d="M411.80 290.50L414.10 294.00L416.40 290.50Z" fill="#000" stroke="#000" stroke-width="0.6"/>
<path d="M420.50 290.50L422.80 294.00L425.10 290.50Z" fill="#000" stroke="#000" stroke-width="0.6"/>
<path d="M429.20 290.50L431.50 294.00L433.80 290.50Z" fill="#000" stroke="#000" stroke-width="0.6"/>
<path d="M437.90 290.50L440.20 294.00L442.50 290.50Z" fill="#000" stroke="#000" stroke-width="0.6"/>
<path d="M361.90 218.30H373.64" fill="none" stroke="#000" stroke-width="1.05"/>
<path d="M373.21 218.30H384.78V244.24H386.96V296.20H440.20V296.20" fill="none" stroke="#000" stroke-width="1.5"/>
<path d="M359.30 218.00L361.90 215.00L364.50 218.00L361.90 221.00Z" fill="#fff" stroke="#000" stroke-width="1"/>
<path d="M371.48 218.00L374.08 215.00L376.68 218.00L374.08 221.00Z" fill="#fff" stroke="#000" stroke-width="1"/>
<path d="M374.96 218.00L377.56 215.00L380.16 218.00L377.56 221.00Z" fill="#fff" stroke="#000" stroke-width="1"/>
<path d="M378.44 218.00L381.04 215.00L383.64 218.00L381.04 221.00Z" fill="#fff" stroke="#000" stroke-width="1"/>
<path d="M382.18 244.24L384.78 241.24L387.38 244.24L384.78 247.24Z" fill="#fff" stroke="#000" stroke-width="1"/>
<path d="M384.96 296.20L387.56 293.20L390.17 296.20L387.56 299.20Z" fill="#fff" stroke="#000" stroke-width="1"/>
<path d="M388.18 296.20L390.78 293.20L393.38 296.20L390.78 299.20Z" fill="#fff" stroke="#000" stroke-width="1"/>
<path d="M391.23 296.20L393.83 293.20L396.43 296.20L393.83 299.20Z" fill="#fff" stroke="#000" stroke-width="1"/>
<path d="M394.36 296.20L396.96 293.20L399.56 296.20L396.96 299.20Z" fill="#fff" stroke="#000" stroke-width="1"/>
<path d="M402.80 296.20L405.40 293.20L408.00 296.20L405.40 299.20Z" fill="#fff" stroke="#000" stroke-width="1"/>
<path d="M411.50 296.20L414.10 293.20L416.70 296.20L414.10 299.20Z" fill="#fff" stroke="#000" stroke-width="1"/>
<path d="M420.20 296.20L422.80 293.20L425.40 296.20L422.80 299.20Z" fill="#fff" stroke="#000" stroke-width="1"/>
<path d="M428.90 296.20L431.50 293.20L434.10 296.20L431.50 299.20Z" fill="#fff" stroke="#000" stroke-width="1"/>
<path d="M437.60 296.20L440.20 293.20L442.80 296.20L440.20 299.20Z" fill="#fff" stroke="#000" stroke-width="1"/>
<text x="394.00" y="252.40" transform="rotate(0.05 394.00 252.40)" font-size="8.65" text-anchor="start" >26 (C3H)</text>
<text x="394.00" y="263.20" transform="rotate(0.05 394.00 263.20)" font-size="8.65" text-anchor="start" >29 (BALB/c)</text>
<path d="M457.9 170.3H480.6" fill="none" stroke="#000" stroke-width="1.2"/>
<path d="M467.30 170.30L469.60 167.80L471.90 170.30L469.60 172.80Z" fill="#fff" stroke="#000" stroke-width="1"/>
<text x="484.60" y="173.70" transform="rotate(0.05 484.60 173.70)" font-size="9.4" text-anchor="start" >BALB/c</text>
<path d="M457.9 188.7H480.6" fill="none" stroke="#000" stroke-width="1.2"/>
<path d="M467.20 190.40L469.60 185.80L472.00 190.40Z" fill="#fff" stroke="#000" stroke-width="1"/>
<text x="484.60" y="192.10" transform="rotate(0.05 484.60 192.10)" font-size="9.4" text-anchor="start" >B6</text>
<path d="M457.9 206.9H480.6" fill="none" stroke="#000" stroke-width="1.2"/>
<path d="M466.90 204.60L469.60 209.40L472.30 204.60Z" fill="#000" stroke="#000" stroke-width="0.6"/>
<text x="484.60" y="210.30" transform="rotate(0.05 484.60 210.30)" font-size="9.4" text-anchor="start" >C3H</text>
</g></svg></body></html>
